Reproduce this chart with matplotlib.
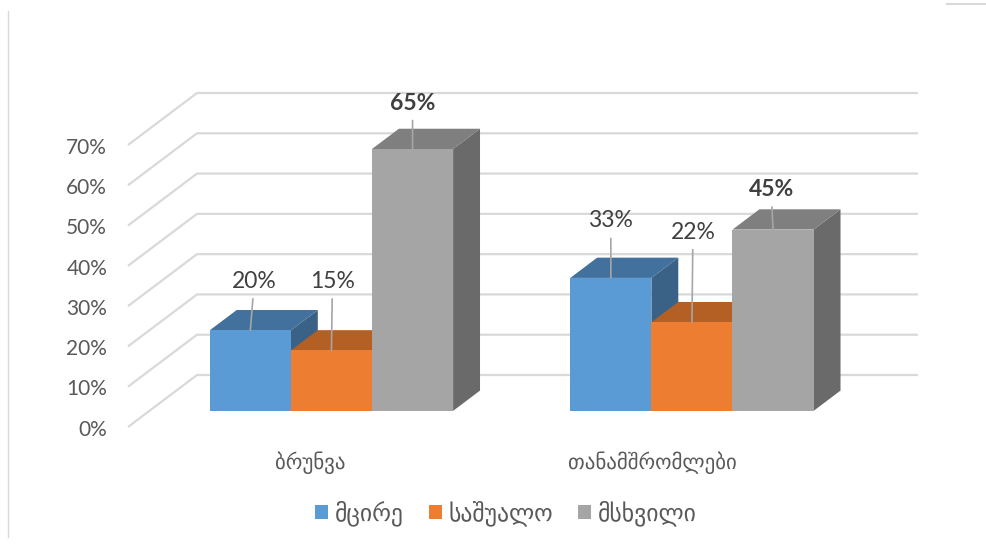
import matplotlib.pyplot as plt
from matplotlib.patches import Polygon, Patch
from matplotlib.lines import Line2D

plt.rcParams['font.family'] = ['Lato', 'DejaVu Sans']

# data
categories = ["ბრუნვა", "თანამშრომლები"]
series_names = ["მცირე", "საშუალო", "მსხვილი"]
values = [
    [20, 15, 65],   # მცირე / საშუალო / მსხვილი for ბრუნვა
    [33, 22, 45],   # for თანამშრომლები
]
y_ticks = [0, 10, 20, 30, 40, 50, 60, 70]

# styling
front_cols = ["#5B9BD5", "#ED7D31", "#A5A5A5"]
top_cols = ["#41719C", "#B45F24", "#7F7F7F"]
side_cols = ["#3A6287", "#9E521F", "#6A6A6A"]
# label lift (pixels above bar top) and x nudge, per bar
label_lift = [[49, 69, 46], [57, 90, 40]]
label_dx = [[4, 1, 0], [0, 1, -2]]
label_bold = [False, False, True]
cat_dx = [2, -16]

# oblique "3D" projection: full depth shift in data units
DX, DY = -69 / 360.5, -12.9
D_FRONT, D_BACK = 0.69, 0.30
BAR_W = 0.225
X_NUDGE = 0.005


def proj(x, y, d):
    return (x + d * DX, y + d * DY)


fig = plt.figure(figsize=(9.87, 5.48), dpi=100)
ax = fig.add_axes([197 / 987, 1 - 375 / 548, 721 / 987, (375 - 93) / 548])
ax.set_xlim(0, len(categories))
ax.set_ylim(0, 70)
ax.axis('off')

# gridlines: floor/side diagonal + back wall
for t in y_ticks:
    x0, y0 = proj(0, t, 1)
    ax.plot([x0, 0, len(categories)], [y0, t, t], color="#d9d9d9", lw=1.6,
            clip_on=False, zorder=1, solid_capstyle='butt')
    ax.annotate(f"{t}%", xy=(x0, y0), xytext=(-15, -2), textcoords='offset points',
                ha='right', va='center', fontsize=15, color="#595959",
                annotation_clip=False)

# bars
for i, cat in enumerate(categories):
    for j, name in enumerate(series_names):
        v = values[i][j]
        xc = i + 0.5 + (j - 1) * BAR_W + X_NUDGE
        xl, xr = xc - BAR_W / 2, xc + BAR_W / 2
        sx, sy = D_FRONT * DX, D_FRONT * DY
        ax.bar(xc + sx, v, width=BAR_W, bottom=sy, color=front_cols[j],
               clip_on=False, zorder=2 + j * 3 + i * 10)
        top = [proj(xl, v, D_FRONT), proj(xr, v, D_FRONT),
               proj(xr, v, D_BACK), proj(xl, v, D_BACK)]
        side = [proj(xr, 0, D_FRONT), proj(xr, v, D_FRONT),
                proj(xr, v, D_BACK), proj(xr, 0, D_BACK)]
        ax.add_patch(Polygon(side, closed=True, color=side_cols[j], lw=0,
                             clip_on=False, zorder=1.5 + j * 3 + i * 10))
        ax.add_patch(Polygon(top, closed=True, color=top_cols[j], lw=0,
                             clip_on=False, zorder=1.6 + j * 3 + i * 10))
        # data label with leader line
        bx, by = proj(xc, v, D_FRONT)
        ax.annotate(f"{v}%", xy=(bx, by),
                    xytext=(label_dx[i][j] * 0.72, label_lift[i][j] * 0.72),
                    textcoords='offset points', ha='center', va='center',
                    fontsize=16.5, color="#404040",
                    fontweight='bold' if label_bold[j] else 'normal',
                    arrowprops=dict(arrowstyle='-', color="#a6a6a6", lw=1.2,
                                    shrinkA=3, shrinkB=0),
                    annotation_clip=False, zorder=50)

    # category label
    cx, cy = proj(i + 0.5, 0, 1)
    ax.annotate(cat, xy=(cx, cy), xytext=(cat_dx[i] * 0.72, -26), textcoords='offset points',
                ha='center', va='center', fontsize=15, color="#595959",
                annotation_clip=False)

# legend
handles = [Patch(facecolor=c, edgecolor='none') for c in front_cols]
fig.legend(handles, series_names, loc='center', bbox_to_anchor=(506 / 987, 1 - 513 / 548),
           ncol=3, frameon=False, fontsize=17, labelcolor="#595959",
           handlelength=0.55, handleheight=0.55, handletextpad=0.3, columnspacing=1.05)

# chart area border fragments
fig.add_artist(Line2D([8 / 987, 8 / 987], [0.02, 0.98], color="#d9d9d9", lw=1))
fig.add_artist(Line2D([947 / 987, 1.0], [1 - 4 / 548, 1 - 4 / 548], color="#d9d9d9", lw=1.5))

plt.savefig("out.png", dpi=100)
